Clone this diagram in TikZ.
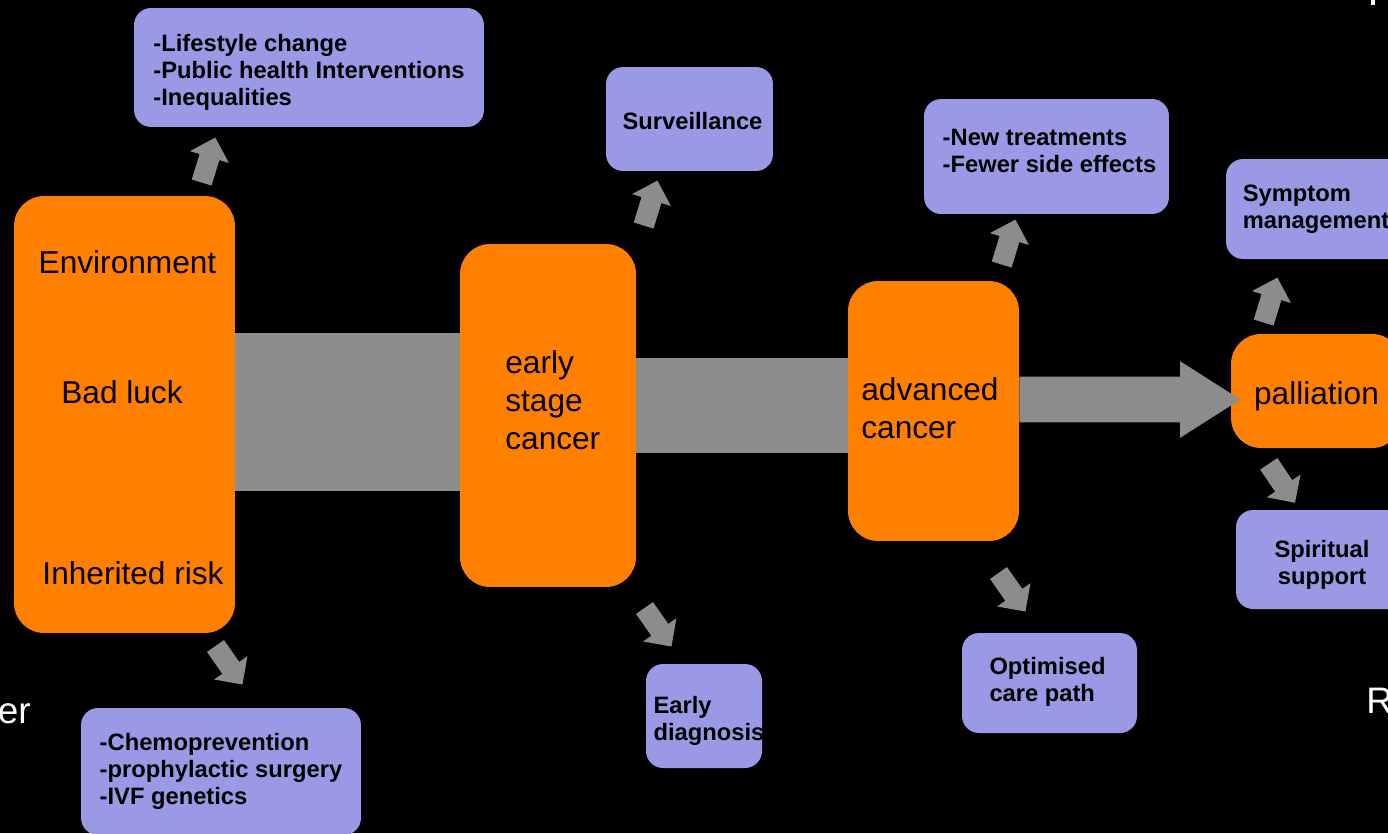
\documentclass[tikz,border=0pt]{standalone}
\usepackage{fontspec}
\setmainfont{Liberation Sans}
\usetikzlibrary{shapes.arrows}
\definecolor{stageorange}{RGB}{255,127,0}
\definecolor{actionblue}{RGB}{153,153,230}
\definecolor{flowgray}{RGB}{140,140,140}
\begin{document}
\begin{tikzpicture}[x=0.02cm,y=-0.02cm,
    stage/.style={fill=stageorange,rounded corners=0.6cm,inner sep=0pt},
    stagetext/.style={inner sep=0pt,align=left,font=\fontsize{18}{21.5}\selectfont},
    action/.style={fill=actionblue,rounded corners=0.34cm,inner sep=0pt},
    actiontext/.style={inner sep=0pt,align=left,font=\bfseries\fontsize{13.5}{15.4}\selectfont},
    nudge/.style={single arrow,fill=flowgray,inner xsep=0pt,inner ysep=0.2cm,
      single arrow head extend=0.2cm,minimum height=0.94cm,outer sep=0pt},
    cuttext/.style={text=white,inner sep=0pt,font=\fontsize{21}{25}\selectfont}]
  \fill[black] (0,0) rectangle (1388,833);
  \useasboundingbox (0,0) rectangle (1388,833);
  \node[stage,minimum width=4.42cm,minimum height=8.74cm] (causes) at (124.5,414.5) {};
  \node[stagetext] (env) at (127.5,262) {Environment};
  \node[stagetext] (luck) at (122,392) {Bad luck};
  \node[stagetext] (risk) at (133,573) {Inherited risk};
  \node[stage,minimum width=3.52cm,minimum height=6.86cm] (early) at (548,415.5) {};
  \node[stagetext,anchor=west] (earlytext) at (505,400) {early\\stage\\cancer};
  \node[stage,minimum width=3.42cm,minimum height=5.2cm] (adv) at (933.5,411) {};
  \node[stagetext,anchor=west] (advtext) at (861,408.5) {advanced\\cancer};
  \node[stage,minimum width=3.42cm,minimum height=2.28cm] (pall) at (1316.5,391) {};
  \node[stagetext] (palltext) at (1316.5,396) {palliation};
  \fill[flowgray] ([yshift=1.63cm]causes.east) rectangle ([yshift=-1.51cm]early.west);
  \fill[flowgray] ([yshift=1.15cm]early.east) rectangle ([yshift=-0.84cm]adv.west);
  \node[single arrow,fill=flowgray,inner xsep=0pt,inner ysep=0.45cm,outer sep=0pt,
    single arrow head extend=0.31cm,single arrow tip angle=65,minimum height=4.42cm,
    anchor=tail] (flow) at ([yshift=0.23cm]adv.east) {};
  \node[action,minimum width=7cm,minimum height=2.38cm] (prev) at (309,67.5) {};
  \node[actiontext] (prevtext) at (309,72.5)
    {-Lifestyle change\\-Public health Interventions\\-Inequalities};
  \node[action,minimum width=3.34cm,minimum height=2.08cm] (surv) at (689.5,119) {};
  \node[actiontext] (survtext) at (692.5,121) {Surveillance};
  \node[action,minimum width=4.9cm,minimum height=2.3cm] (treat) at (1046.5,156.5) {};
  \node[actiontext] (treattext) at (1049.5,150.5) {-New treatments\\-Fewer side effects};
  \node[action,minimum width=3.6cm,minimum height=2cm] (symp) at (1316,209) {};
  \node[actiontext] (symptext) at (1316,209) {Symptom\\management};
  \node[action,minimum width=3.44cm,minimum height=1.98cm] (spirit) at (1322,559.5) {};
  \node[actiontext,align=center] (spirittext) at (1322,564.5) {Spiritual\\support};
  \node[action,minimum width=3.5cm,minimum height=2cm] (care) at (1049.5,683) {};
  \node[actiontext] (caretext) at (1047.5,681.5) {Optimised\\care path};
  \node[action,minimum width=2.32cm,minimum height=2.08cm] (diag) at (704,716) {};
  \node[actiontext] (diagtext) at (709,721) {Early\\diagnosis};
  \node[action,minimum width=5.6cm,minimum height=2.54cm] (chemo) at (221,771.5) {};
  \node[actiontext] (chemotext) at (221,771.5)
    {-Chemoprevention\\-prophylactic surgery\\-IVF genetics};
  \node[nudge,rotate=73] (up1) at (207,165) {};
  \node[nudge,rotate=73] (up2) at (649,208) {};
  \node[nudge,rotate=73] (up3) at (1007,247) {};
  \node[nudge,rotate=73] (up4) at (1269,305) {};
  \node[nudge,rotate=-55] (down1) at (226,661) {};
  \node[nudge,rotate=-55] (down2) at (655,623) {};
  \node[nudge,rotate=-55] (down3) at (1009,588) {};
  \node[nudge,rotate=-56] (down4) at (1279,479) {};
  \node[cuttext,anchor=base east] (cutleft) at (31,723) {er};
  \node[cuttext,anchor=base west] (cutright) at (1366,713) {R};
  \fill[white] (1371,0) rectangle (1375,5);
\end{tikzpicture}
\end{document}
